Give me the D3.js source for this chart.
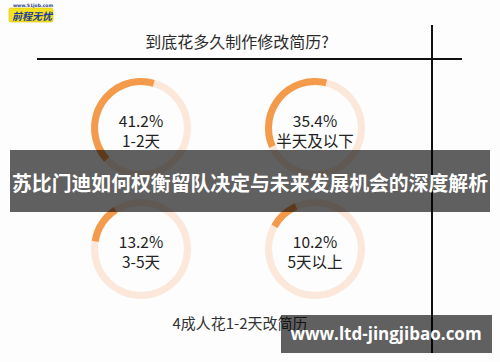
<!DOCTYPE html>
<html>
<head>
<meta charset="utf-8">
<script src="https://cdn.jsdelivr.net/npm/d3@7"></script>
<style>
  html, body { margin: 0; padding: 0; background: #fdfdfd; }
  svg { display: block; }
</style>
</head>
<body>
<script>
// data
const title = "到底花多久制作修改简历?";
const categories = ["1-2天", "半天及以下", "3-5天", "5天以上"];
const shares = [41.2, 35.4, 13.2, 10.2];
const footnote = "4成人花1-2天改简历";
const bannerText = "苏比门迪如何权衡留队决定与未来发展机会的深度解析";
const siteText = "www.ltd-jingjibao.com";

// size
const width = 500,
    height = 362,
    font = "'Noto Sans CJK SC', 'Noto Sans', sans-serif",
    svg = d3
        .select("body")
        .append("svg")
        .attr("width", width)
        .attr("height", height);

svg.append("rect")
    .attr("width", width)
    .attr("height", height)
    .attr("fill", "#fdfdfd");

// logo
const logo = svg.append("g").attr("transform", "translate(9, 3)");
logo.append("text")
    .attr("x", 24)
    .attr("y", 4)
    .attr("text-anchor", "middle")
    .attr("font-family", "'DejaVu Sans', sans-serif")
    .attr("font-size", 4.5)
    .attr("font-weight", "bold")
    .attr("fill", "#2a3f8f")
    .text("www.51job.com");
logo.append("rect")
    .attr("x", 0)
    .attr("y", 5)
    .attr("width", 44)
    .attr("height", 14)
    .attr("rx", 2)
    .attr("fill", "#f4e21e")
    .attr("stroke", "#d8c400")
    .attr("stroke-width", 0.6);
logo.append("text")
    .attr("x", 23)
    .attr("y", 16.5)
    .attr("text-anchor", "middle")
    .attr("font-family", font)
    .attr("font-size", 10)
    .attr("font-weight", "bold")
    .attr("font-style", "italic")
    .attr("fill", "#1d3a9a")
    .text("前程无忧");

// title + rules
svg.append("text")
    .attr("x", 237)
    .attr("y", 41)
    .attr("text-anchor", "middle")
    .attr("dominant-baseline", "central")
    .attr("font-family", font)
    .attr("font-size", 16)
    .attr("fill", "#2b2b2b")
    .text(title);

svg.append("line")
    .attr("x1", 37).attr("x2", 462)
    .attr("y1", 59).attr("y2", 59)
    .attr("stroke", "#111")
    .attr("stroke-width", 2);
svg.append("line")
    .attr("x1", 432).attr("x2", 432)
    .attr("y1", 25).attr("y2", 353)
    .attr("stroke", "#111")
    .attr("stroke-width", 2);

// ring grid
const col = d3.scalePoint().domain([0, 1]).range([141, 315]),
    row = d3.scalePoint().domain([0, 1]).range([128, 249]),
    angle = d3.scaleLinear().domain([0, 100]).range([0, 2 * Math.PI]),
    // where each orange arc begins (degrees clockwise from 12 o'clock)
    ringStart = [16, 14, -33, -24],
    arc = d3.arc().innerRadius(43).outerRadius(50);

const rings = svg
    .selectAll("g.ring")
    .data(shares)
    .enter()
    .append("g")
    .attr("class", "ring")
    .attr("transform", (d, i) => `translate(${col(i % 2)}, ${row(Math.floor(i / 2))})`);

rings.append("path")
    .attr("fill", "#fbe8da")
    .attr("d", arc({ startAngle: 0, endAngle: 2 * Math.PI }));

rings.append("path")
    .attr("fill", "#f39a4b")
    .attr("d", (d, i) => {
        const s = (ringStart[i] * Math.PI) / 180;
        return arc({ startAngle: s - angle(d), endAngle: s });
    });

rings.append("text")
    .attr("y", -8)
    .attr("text-anchor", "middle")
    .attr("dominant-baseline", "central")
    .attr("font-family", font)
    .attr("font-size", 15.5)
    .attr("fill", "#222")
    .text(d => d.toFixed(1) + "%");

rings.append("text")
    .attr("y", 12)
    .attr("text-anchor", "middle")
    .attr("dominant-baseline", "central")
    .attr("font-family", font)
    .attr("font-size", 15.5)
    .attr("fill", "#222")
    .text((d, i) => categories[i]);

// footnote
svg.append("text")
    .attr("x", 240)
    .attr("y", 322)
    .attr("text-anchor", "middle")
    .attr("dominant-baseline", "central")
    .attr("font-family", font)
    .attr("font-size", 15)
    .attr("fill", "#333")
    .text(footnote);

// banner overlay
svg.append("rect")
    .attr("x", 10).attr("y", 150)
    .attr("width", 480).attr("height", 62)
    .attr("fill", "#000")
    .attr("fill-opacity", 0.62);
svg.append("text")
    .attr("x", 250)
    .attr("y", 182)
    .attr("text-anchor", "middle")
    .attr("dominant-baseline", "central")
    .attr("font-family", font)
    .attr("font-size", 20)
    .attr("font-weight", "bold")
    .attr("fill", "#fff")
    .attr("textLength", 476)
    .attr("lengthAdjust", "spacingAndGlyphs")
    .text(bannerText);

// site badge
svg.append("rect")
    .attr("x", 281).attr("y", 315)
    .attr("width", 211).attr("height", 38)
    .attr("fill", "#000")
    .attr("fill-opacity", 0.62);
svg.append("text")
    .attr("x", 386)
    .attr("y", 333)
    .attr("text-anchor", "middle")
    .attr("dominant-baseline", "central")
    .attr("font-family", "'Open Sans', 'DejaVu Sans', sans-serif")
    .attr("font-size", 17)
    .attr("font-weight", "bold")
    .attr("fill", "#fff")
    .text(siteText);
</script>
</body>
</html>
